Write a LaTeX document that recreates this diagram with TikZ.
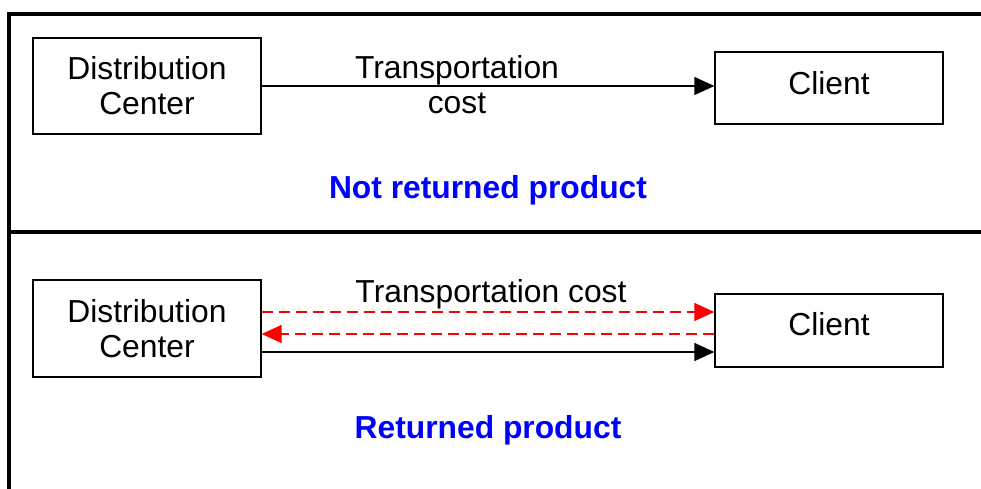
\documentclass[tikz,border=0pt]{standalone}
\usepackage{fontspec}
\setmainfont{Liberation Sans}
\usetikzlibrary{arrows.meta}
\begin{document}
\begin{tikzpicture}[x=1pt,y=-1pt,
  every node/.style={font=\fontsize{31.8}{35}\selectfont},
  box/.style={draw,line width=1.3pt,minimum width=228pt,align=center,inner sep=0pt},
  conn/.style={line width=1.3pt,-{Triangle[length=20pt,width=18pt]}},
  redconn/.style={conn,red,dash pattern=on 11pt off 6pt},
  frame/.style={line width=3.6pt},
  caption/.style={text=blue,font=\fontsize{31.8}{35}\selectfont\bfseries}]
\useasboundingbox (0,0) rectangle (981,489);
% frame
\draw[frame] (9,489) -- (9,14) -- (985,14);
\draw[frame] (9,232) -- (985,232);
% top panel
\node[box,minimum height=96pt] (dc1) at (147,86) {Distribution\\Center};
\node[box,minimum height=72pt] (cl1) at (829,88) {\raisebox{11pt}{Client}};
\draw[conn] (dc1.east) -- (dc1.east -| cl1.west);
\node[align=center] (lab1) at (457,85) {Transportation\\cost};
\node[caption] (cap1) at (488,190) {Not returned product};
% bottom panel
\node[box,minimum height=97pt] (dc2) at (147,328.5) {Distribution\\Center};
\node[box,minimum height=73pt] (cl2) at (829,330.5) {\raisebox{13pt}{Client}};
\draw[redconn] (dc2.east |- 0,312) -- (cl2.west |- 0,312);
\draw[redconn] (cl2.west |- 0,334) -- (dc2.east |- 0,334);
\draw[conn] (dc2.east |- 0,352) -- (cl2.west |- 0,352);
\node (lab2) at (491,294) {Transportation cost};
\node[caption] (cap2) at (488,430) {Returned product};
\end{tikzpicture}
\end{document}
